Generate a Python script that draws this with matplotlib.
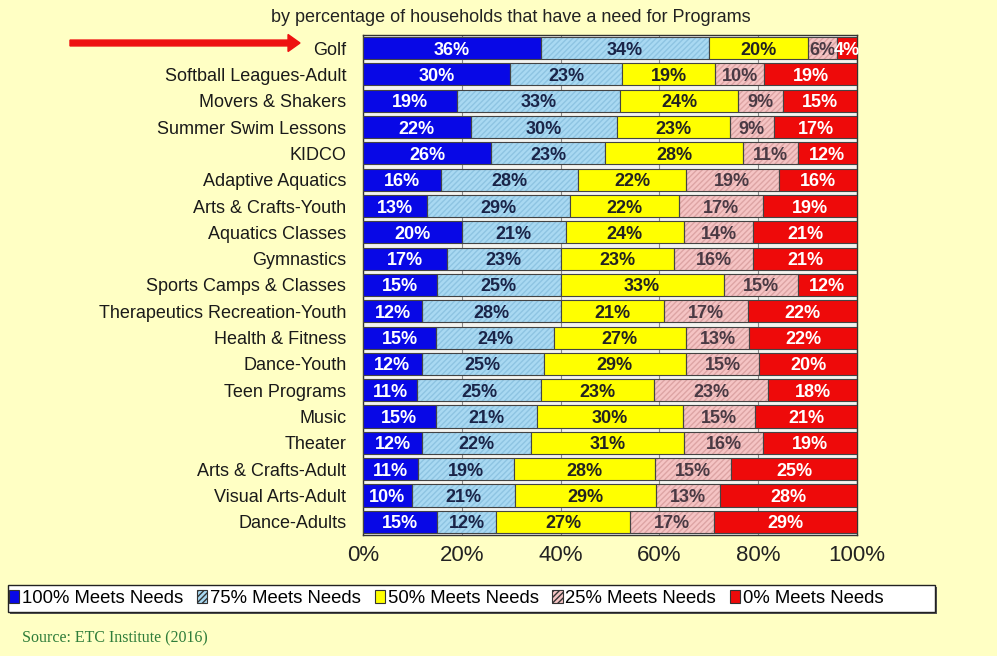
import matplotlib
matplotlib.use("Agg")
import matplotlib.pyplot as plt
from matplotlib.patches import Patch, Rectangle, FancyArrow
import numpy as np

plt.rcParams['font.family'] = ['Liberation Sans', 'DejaVu Sans']

categories = ["Golf", "Softball Leagues-Adult", "Movers & Shakers", "Summer Swim Lessons",
              "KIDCO", "Adaptive Aquatics", "Arts & Crafts-Youth", "Aquatics Classes",
              "Gymnastics", "Sports Camps & Classes", "Therapeutics Recreation-Youth",
              "Health & Fitness", "Dance-Youth", "Teen Programs", "Music", "Theater",
              "Arts & Crafts-Adult", "Visual Arts-Adult", "Dance-Adults"]
meets_100 = [36, 30, 19, 22, 26, 16, 13, 20, 17, 15, 12, 15, 12, 11, 15, 12, 11, 10, 15]
meets_75 = [34, 23, 33, 30, 23, 28, 29, 21, 23, 25, 28, 24, 25, 25, 21, 22, 19, 21, 12]
meets_50 = [20, 19, 24, 23, 28, 22, 22, 24, 23, 33, 21, 27, 29, 23, 30, 31, 28, 29, 27]
meets_25 = [6, 10, 9, 9, 11, 19, 17, 14, 16, 15, 17, 13, 15, 23, 15, 16, 15, 13, 17]
meets_0 = [4, 19, 15, 17, 12, 16, 19, 21, 21, 12, 22, 22, 20, 18, 21, 19, 25, 28, 29]
series_names = ["100% Meets Needs", "75% Meets Needs", "50% Meets Needs",
                "25% Meets Needs", "0% Meets Needs"]
xtick_labels = ["0%", "20%", "40%", "60%", "80%", "100%"]

colors = ["#0808E6", "#A9D9F2", "#FFFF00", "#F5C4C4", "#EE0A0A"]
hatch_colors = [None, "#8EC4E2", None, "#DDA4A4", None]
hatches = [None, "//////", None, "//////", None]
text_colors = ["white", "#1A2448", "#222222", "#4A3A44", "white"]

bg = "#FFFFC4"
fig = plt.figure(figsize=(9.97, 6.56), dpi=100, facecolor=bg)
ax = fig.add_axes([0.3641, 0.1845, 0.4955, 0.7622])
ax.set_facecolor("#F4F4F0")

data = np.array([meets_100, meets_75, meets_50, meets_25, meets_0], dtype=float)
totals = data.sum(axis=0)
widths = data / totals * 100.0

y = np.arange(len(categories))
left = np.zeros(len(categories))
h = 0.84
for i in range(5):
    if hatches[i]:
        ax.barh(y, widths[i], left=left, height=h, color=colors[i],
                edgecolor=hatch_colors[i], hatch=hatches[i], linewidth=0, zorder=2)
        ax.barh(y, widths[i], left=left, height=h, color="none",
                edgecolor="#444444", linewidth=0.8, zorder=3)
    else:
        ax.barh(y, widths[i], left=left, height=h, color=colors[i],
                edgecolor="#444444", linewidth=0.8, zorder=3)
    for j in range(len(categories)):
        ax.text(left[j] + widths[i][j] / 2, y[j], f"{int(data[i][j])}%",
                ha="center", va="center_baseline", fontsize=13, fontweight="bold",
                color=text_colors[i], zorder=5)
    left += widths[i]

ax.set_xlim(0, 100)
ax.set_ylim(len(categories) - 0.5, -0.5)
ax.set_xticks([0, 20, 40, 60, 80, 100])
ax.set_xticklabels(xtick_labels, fontsize=16, color="#222222")
ax.set_yticks(y)
ax.set_yticklabels(categories, fontsize=13, color="#1A1A1A")
ax.tick_params(axis="y", length=0, pad=12)
ax.tick_params(axis="x", length=0, pad=7)
ax.xaxis.grid(True, color="#888888", linewidth=0.8, zorder=1)
ax.set_axisbelow(True)
for s in ax.spines.values():
    s.set_color("#333333")
    s.set_linewidth(1.0)

fig.text(0.512, 0.973, "by percentage of households that have a need for Programs",
         ha="center", va="center", fontsize=13, color="#222222")

# legend frame (with slight shadow)
W, H = 997.0, 656.0
fig.patches.append(Rectangle((10 / W, 1 - 614 / H), 927 / W, 27 / H,
                             transform=fig.transFigure, facecolor="#555555",
                             edgecolor="none", zorder=0))
fig.patches.append(Rectangle((8 / W, 1 - 612 / H), 927 / W, 27 / H,
                             transform=fig.transFigure, facecolor="white",
                             edgecolor="#222222", linewidth=1.0, zorder=1))

handles = []
for i in range(5):
    handles.append(Patch(facecolor=colors[i], edgecolor="#333333",
                         hatch=hatches[i] if hatches[i] else None, linewidth=0.8))
leg = fig.legend(handles, series_names, loc="center left",
                 bbox_to_anchor=(9 / W, 1 - 598.5 / H),
                 ncol=5, fontsize=13.3, frameon=False, handlelength=0.55,
                 handleheight=0.75, handletextpad=0.15, columnspacing=0.75,
                 borderpad=0, borderaxespad=0)
leg.set_zorder(5)

fig.text(0.022, 1 - 638 / H, "Source: ETC Institute (2016)", ha="left", va="center",
         fontsize=11.5, color="#2F7D3A", family=["Liberation Serif", "DejaVu Serif"])

fig.patches.append(FancyArrow(
    70 / W, 1 - 43 / H, 230 / W, 0, width=0.009, head_width=0.026,
    head_length=0.012, length_includes_head=True, color="#EE1111",
    transform=fig.transFigure, figure=fig))

fig.savefig("out.png", dpi=100, facecolor=bg)
